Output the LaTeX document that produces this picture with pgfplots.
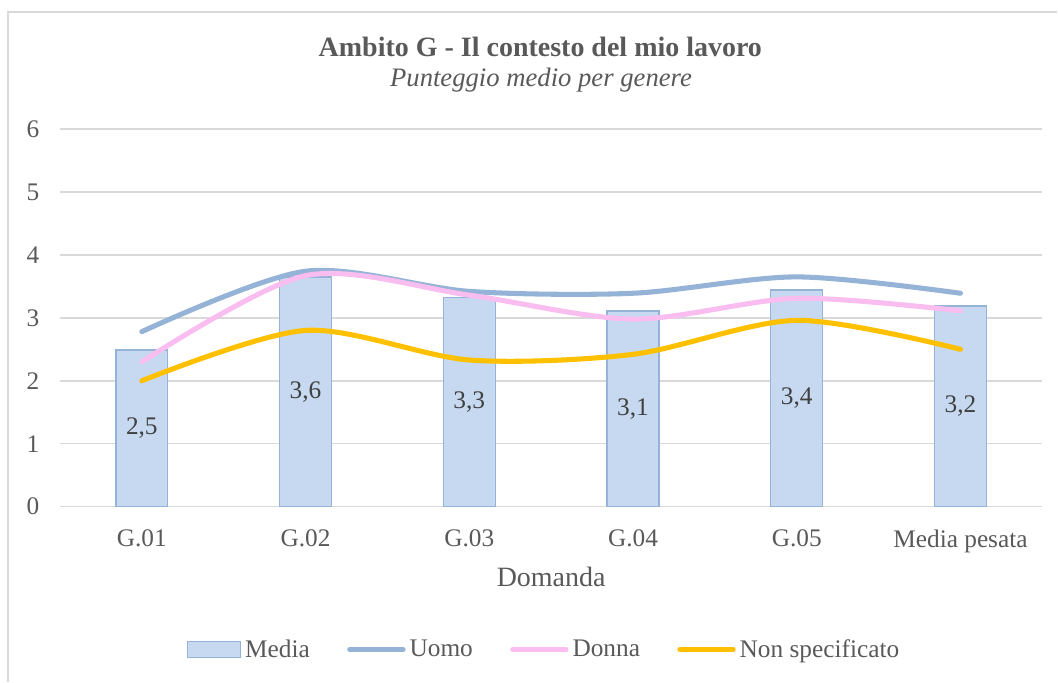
\documentclass[border=0pt]{standalone}
\usepackage{fontspec}
\setmainfont{Liberation Serif}
\usepackage{pgfplots}
\pgfplotsset{compat=1.18}
\definecolor{barfill}{HTML}{C6D9F0}
\definecolor{barline}{HTML}{95B3D7}
\definecolor{uomo}{HTML}{95B3D7}
\definecolor{donna}{HTML}{F9BDF0}
\definecolor{nonsp}{HTML}{FFC000}
\definecolor{gridc}{HTML}{D9D9D9}
\definecolor{txt}{HTML}{595959}
\definecolor{lab}{HTML}{404040}
\pgfplotsset{
  barleg/.style={legend image code/.code={\draw[##1] (0pt,-6pt) rectangle (40pt,6pt);}},
  lineleg/.style={legend image code/.code={\draw[##1] (0pt,0pt) -- (40pt,0pt);}},
}
\begin{document}
\begin{tikzpicture}
\path (0,0) rectangle (793.5pt,-511.5pt);
\draw[gridc, line width=1pt] (6pt,-511.5pt) -- (6pt,-9pt) -- (793.5pt,-9pt);
\node[font=\fontsize{21}{24}\selectfont\bfseries, text=txt] at (405.5pt,-35.25pt) {Ambito G - Il contesto del mio lavoro};
\node[font=\fontsize{20}{23}\selectfont\itshape, text=txt] at (406pt,-60pt) {Punteggio medio per genere};
\begin{axis}[
  at={(45pt,-380.25pt)}, anchor=south west,
  scale only axis, width=737.25pt, height=283.5pt,
  xmin=-0.5, xmax=5.5, ymin=0, ymax=6,
  axis line style={draw=none},
  major tick length=0pt,
  ytick={0,1,2,3,4,5,6},
  ymajorgrids, grid style={gridc, line width=1.1pt},
  xtick={0,1,2,3,4,5},
  xticklabels={G.01,G.02,G.03,G.04,G.05,Media pesata},
  /pgf/number format/assume math mode=true,
  tick label style={font=\fontsize{19}{22}\selectfont, text=txt},
  yticklabel style={xshift=-12pt},
  xticklabel style={yshift=-14pt},
  xlabel={Domanda},
  xlabel style={font=\fontsize{21}{24}\selectfont, text=txt, at={(axis description cs:0.5,0)}, anchor=center, yshift=-52.5pt},
  legend columns=4,
  legend style={draw=none, fill=none, font=\fontsize{19}{22}\selectfont, text=txt,
    at={(axis description cs:0.493,-0.378)}, anchor=center,
    /tikz/every odd column/.append style={column sep=1pt},
    /tikz/every even column/.append style={column sep=26pt}},
  legend cell align=left,
  clip=false,
]
\addplot[ybar, bar width=39pt, fill=barfill, draw=barline, line width=1pt, barleg]
  coordinates {(0,2.49) (1,3.65) (2,3.32) (3,3.11) (4,3.44) (5,3.19)};
\addlegendentry{Media}
\addplot[uomo, line width=3.8pt, line cap=round, smooth, lineleg]
  coordinates {(0,2.78) (1,3.74) (2,3.42) (3,3.39) (4,3.65) (5,3.39)};
\addlegendentry{Uomo}
\addplot[donna, line width=3.8pt, line cap=round, smooth, lineleg]
  coordinates {(0,2.30) (1,3.67) (2,3.36) (3,2.98) (4,3.31) (5,3.11)};
\addlegendentry{Donna}
\addplot[nonsp, line width=3.8pt, line cap=round, smooth, lineleg]
  coordinates {(0,2.00) (1,2.80) (2,2.33) (3,2.42) (4,2.96) (5,2.50)};
\addlegendentry{Non specificato}
\addplot[draw=none, mark=none, nodes near coords, point meta=explicit symbolic,
  nodes near coords style={anchor=center, font=\fontsize{19}{22}\selectfont, text=lab},
  forget plot]
  table[meta=lab] {
x y lab
0 1.245 {2,5}
1 1.825 {3,6}
2 1.66 {3,3}
3 1.555 {3,1}
4 1.72 {3,4}
5 1.595 {3,2}
};
\end{axis}
\end{tikzpicture}
\end{document}
